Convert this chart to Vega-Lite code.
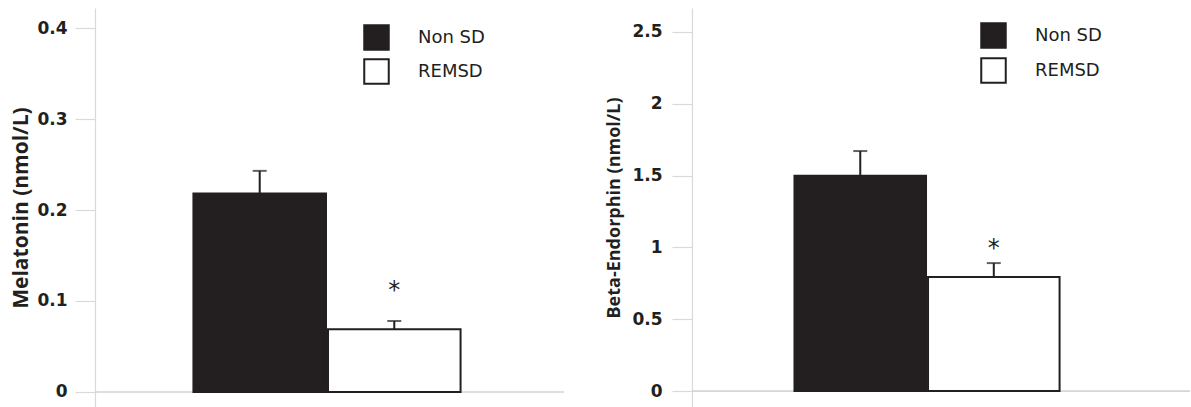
{
  "$schema": "https://vega.github.io/schema/vega-lite/v6.json",
  "padding": {"left": 10, "top": 8, "right": 0, "bottom": 0},
  "background": "white",
  "spacing": 40,
  "config": {
    "view": {"stroke": null},
    "axis": {"grid": false},
    "font": "DejaVu Sans"
  },
  "resolve": {"scale": {"color": "independent"}, "legend": {"color": "independent"}},
  "hconcat": [
    {
      "width": 469,
      "height": 399,
      "data": {"values": [
        {"group": "Non SD", "mean": 0.218, "upper": 0.243, "sig": ""},
        {"group": "REMSD", "mean": 0.069, "upper": 0.078, "sig": "*"}
      ]},
      "layer": [
        {
          "mark": {"type": "rule", "color": "#d4d4d4", "strokeWidth": 1.2},
          "encoding": {"y": {"datum": 0, "type": "quantitative", "scale": {"domain": [-0.0165, 0.422], "nice": false, "zero": false}}}
        },
        {
          "mark": {"type": "bar", "stroke": "#231f20", "strokeWidth": 2},
          "encoding": {
            "x": {"field": "group", "type": "nominal", "axis": null,
                  "scale": {"domain": ["Non SD", "REMSD"], "paddingInner": 0.015, "paddingOuter": 0.75, "align": 0.4876}},
            "y": {"field": "mean", "type": "quantitative",
                  "scale": {"domain": [-0.0165, 0.422], "nice": false, "zero": false},
                  "axis": {"values": [0, 0.1, 0.2, 0.3, 0.4], "format": "~g", "title": "Melatonin (nmol/L)",
                           "domainColor": "#d9d9d9", "tickColor": "#d9d9d9", "tickSize": 20, "tickWidth": 1.2, "domainWidth": 1.2,
                           "labelFont": "DejaVu Sans", "labelFontSize": 17, "labelFontWeight": "bold", "labelColor": "#231f20", "labelPadding": 8,
                           "titleFont": "Open Sans", "titleFontSize": 21, "titleFontWeight": "bold", "titleColor": "#231f20", "titlePadding": 5}},
            "y2": {"datum": 0},
            "color": {"field": "group", "type": "nominal",
                      "scale": {"domain": ["Non SD", "REMSD"], "range": ["#231f20", "#ffffff"]},
                      "legend": {"orient": "none", "legendX": 268, "legendY": 16, "title": null, "padding": 0,
                                 "symbolType": "square", "symbolSize": 600, "symbolStrokeColor": "#231f20", "symbolStrokeWidth": 2,
                                 "labelFont": "DejaVu Sans", "labelFontSize": 18, "labelColor": "#231f20", "labelOffset": 28, "rowPadding": 1}}
          }
        },
        {
          "mark": {"type": "rule", "color": "#231f20", "strokeWidth": 2},
          "encoding": {
            "x": {"field": "group", "type": "nominal"},
            "y": {"field": "mean", "type": "quantitative"},
            "y2": {"field": "upper"}
          }
        },
        {
          "mark": {"type": "tick", "color": "#231f20", "size": 14, "thickness": 2},
          "encoding": {
            "x": {"field": "group", "type": "nominal"},
            "y": {"field": "upper", "type": "quantitative"}
          }
        },
        {
          "mark": {"type": "text", "color": "#231f20", "font": "DejaVu Sans", "fontSize": 24, "baseline": "middle", "dy": -30},
          "encoding": {
            "x": {"field": "group", "type": "nominal"},
            "y": {"field": "upper", "type": "quantitative"},
            "text": {"field": "sig"}
          }
        }
      ]
    },
    {
      "width": 498,
      "height": 399,
      "data": {"values": [
        {"group": "Non SD", "mean": 1.499, "upper": 1.671, "sig": ""},
        {"group": "REMSD", "mean": 0.794, "upper": 0.891, "sig": "*"}
      ]},
      "layer": [
        {
          "mark": {"type": "rule", "color": "#d4d4d4", "strokeWidth": 1.2},
          "encoding": {"y": {"datum": 0, "type": "quantitative", "scale": {"domain": [-0.111, 2.667], "nice": false, "zero": false}}}
        },
        {
          "mark": {"type": "bar", "stroke": "#231f20", "strokeWidth": 2},
          "encoding": {
            "x": {"field": "group", "type": "nominal", "axis": null,
                  "scale": {"domain": ["Non SD", "REMSD"], "paddingInner": 0.015, "paddingOuter": 0.872, "align": 0.44}},
            "y": {"field": "mean", "type": "quantitative",
                  "scale": {"domain": [-0.111, 2.667], "nice": false, "zero": false},
                  "axis": {"values": [0, 0.5, 1, 1.5, 2, 2.5], "format": "~g", "title": "Beta-Endorphin (nmol/L)",
                           "domainColor": "#d9d9d9", "tickColor": "#d9d9d9", "tickSize": 20, "tickWidth": 1.2, "domainWidth": 1.2,
                           "labelFont": "DejaVu Sans", "labelFontSize": 17, "labelFontWeight": "bold", "labelColor": "#231f20", "labelPadding": 10,
                           "titleFont": "Open Sans", "titleFontSize": 18, "titleFontWeight": "bold", "titleColor": "#231f20", "titlePadding": 8}},
            "y2": {"datum": 0},
            "color": {"field": "group", "type": "nominal",
                      "scale": {"domain": ["Non SD", "REMSD"], "range": ["#231f20", "#ffffff"]},
                      "legend": {"orient": "none", "legendX": 288, "legendY": 14, "title": null, "padding": 0,
                                 "symbolType": "square", "symbolSize": 600, "symbolStrokeColor": "#231f20", "symbolStrokeWidth": 2,
                                 "labelFont": "DejaVu Sans", "labelFontSize": 18, "labelColor": "#231f20", "labelOffset": 28, "rowPadding": 2}}
          }
        },
        {
          "mark": {"type": "rule", "color": "#231f20", "strokeWidth": 2},
          "encoding": {
            "x": {"field": "group", "type": "nominal"},
            "y": {"field": "mean", "type": "quantitative"},
            "y2": {"field": "upper"}
          }
        },
        {
          "mark": {"type": "tick", "color": "#231f20", "size": 14, "thickness": 2},
          "encoding": {
            "x": {"field": "group", "type": "nominal"},
            "y": {"field": "upper", "type": "quantitative"}
          }
        },
        {
          "mark": {"type": "text", "color": "#231f20", "font": "DejaVu Sans", "fontSize": 24, "baseline": "middle", "dy": -14},
          "encoding": {
            "x": {"field": "group", "type": "nominal"},
            "y": {"field": "upper", "type": "quantitative"},
            "text": {"field": "sig"}
          }
        }
      ]
    }
  ]
}
